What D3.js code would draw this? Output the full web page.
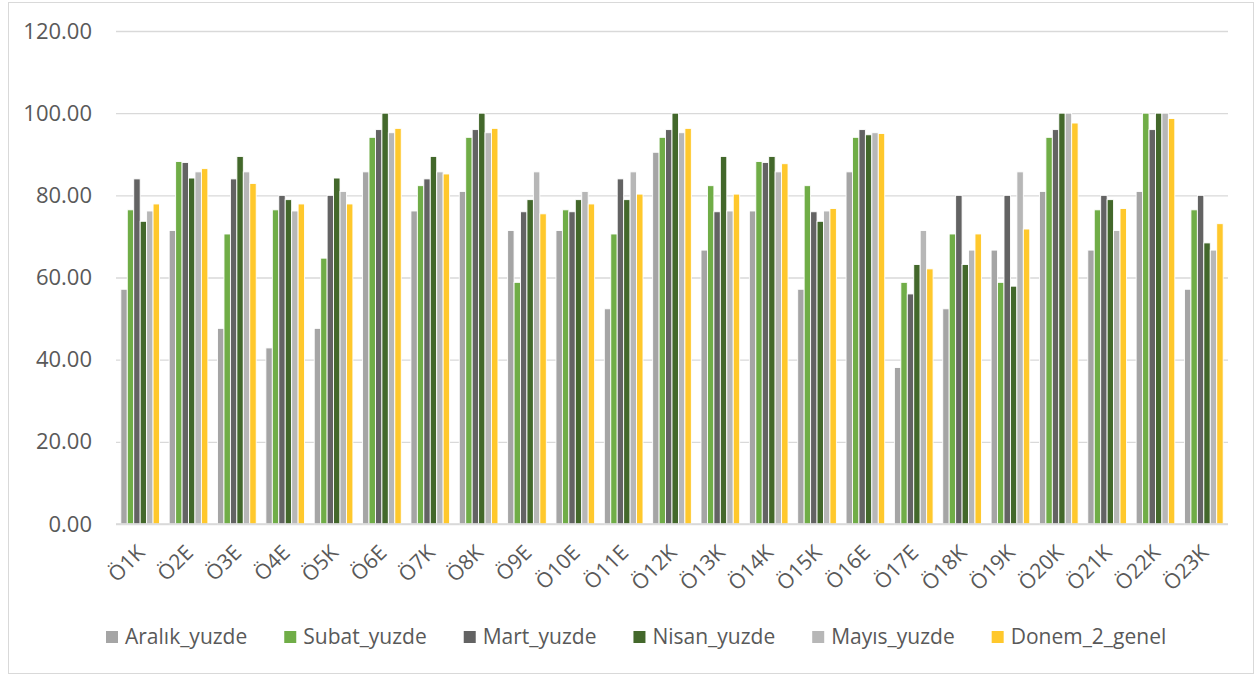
<!DOCTYPE html>
<html>
<head>
<meta charset="utf-8">
<script src="https://cdn.jsdelivr.net/npm/d3@7"></script>
<style>
  body { margin: 0; background: #fff; }
  svg text { font-family: "Open Sans", sans-serif; fill: #595959; }
</style>
</head>
<body>
<div id="chart"></div>
<script>
// categories and series values
const categories = ['Ö1K','Ö2E','Ö3E','Ö4E','Ö5K','Ö6E','Ö7K','Ö8K','Ö9E','Ö10E','Ö11E','Ö12K',
  'Ö13K','Ö14K','Ö15K','Ö16E','Ö17E','Ö18K','Ö19K','Ö20K','Ö21K','Ö22K','Ö23K'];

const aralik = [57.14, 71.43, 47.62, 42.86, 47.62, 85.71, 76.19, 80.95, 71.43, 71.43, 52.38, 90.48,
  66.67, 76.19, 57.14, 85.71, 38.10, 52.38, 66.67, 80.95, 66.67, 80.95, 57.14];
const subat = [76.47, 88.24, 70.59, 76.47, 64.71, 94.12, 82.35, 94.12, 58.82, 76.47, 70.59, 94.12,
  82.35, 88.24, 82.35, 94.12, 58.82, 70.59, 58.82, 94.12, 76.47, 100, 76.47];
const mart = [84, 88, 84, 80, 80, 96, 84, 96, 76, 76, 84, 96,
  76, 88, 76, 96, 56, 80, 80, 96, 80, 96, 80];
const nisan = [73.68, 84.21, 89.47, 78.95, 84.21, 100, 89.47, 100, 78.95, 78.95, 78.95, 100,
  89.47, 89.47, 73.68, 94.74, 63.16, 63.16, 57.89, 100, 78.95, 100, 68.42];
const mayis = [76.19, 85.71, 85.71, 76.19, 80.95, 95.24, 85.71, 95.24, 85.71, 80.95, 85.71, 95.24,
  76.19, 85.71, 76.19, 95.24, 71.43, 66.67, 85.71, 100, 71.43, 100, 66.67];
const donem = [77.9, 86.5, 82.9, 77.9, 77.9, 96.3, 85.2, 96.3, 75.5, 77.9, 80.3, 96.3,
  80.3, 87.7, 76.8, 95.05, 62.1, 70.6, 71.8, 97.6, 76.8, 98.7, 73.1];

const seriesNames = ['Aralık_yuzde', 'Subat_yuzde', 'Mart_yuzde', 'Nisan_yuzde', 'Mayıs_yuzde', 'Donem_2_genel'];
const seriesValues = [aralik, subat, mart, nisan, mayis, donem];
const yTicks = [0, 20, 40, 60, 80, 100, 120];

const colors = ['#a5a5a5', '#70ad47', '#636363', '#43682b', '#b7b7b7', '#ffc82c'];

const width = 1255;
const height = 675;
const plot = { left: 116, right: 1228, top: 31, bottom: 524 };

const svg = d3.select('#chart')
  .append('svg')
  .attr('width', width)
  .attr('height', height);

// outer chart border
svg.append('rect')
  .attr('x', 8.5).attr('y', 2.5)
  .attr('width', 1245).attr('height', 671)
  .attr('fill', 'none')
  .attr('stroke', '#d9d9d9')
  .attr('stroke-width', 1);

const x0 = d3.scaleBand()
  .domain(categories)
  .range([plot.left, plot.right])
  .paddingInner(0.2)
  .paddingOuter(0.1);

const x1 = d3.scaleBand()
  .domain(seriesNames)
  .range([0, x0.bandwidth()]);

const y = d3.scaleLinear()
  .domain([0, 120])
  .range([plot.bottom, plot.top]);

// gridlines + y labels
const yAxis = d3.axisLeft(y)
  .tickValues(yTicks)
  .tickSize(-(plot.right - plot.left))
  .tickPadding(24)
  .tickFormat(d3.format('.2f'));

const gy = svg.append('g')
  .attr('transform', `translate(${plot.left},0)`)
  .call(yAxis);
gy.select('.domain').remove();
gy.selectAll('.tick line').attr('stroke', '#d9d9d9').attr('stroke-width', 1.3);
gy.selectAll('.tick text')
  .attr('font-size', 22)
  .attr('fill', '#595959')
  .style('font-family', '"Open Sans", sans-serif');

// bars
const rows = categories.map((c, i) => ({
  cat: c,
  vals: seriesNames.map((s, j) => ({ key: s, value: seriesValues[j][i], color: colors[j] }))
}));

svg.append('g')
  .selectAll('g')
  .data(rows)
  .join('g')
  .attr('transform', (d) => `translate(${x0(d.cat)},0)`)
  .selectAll('rect')
  .data((d) => d.vals)
  .join('rect')
  .attr('x', (d) => x1(d.key))
  .attr('y', (d) => y(d.value))
  .attr('width', x1.bandwidth())
  .attr('height', (d) => y(0) - y(d.value))
  .attr('fill', (d) => d.color)
  .attr('stroke', '#fff')
  .attr('stroke-width', 0.9);

// baseline on top of bars
svg.append('line')
  .attr('x1', plot.left).attr('x2', plot.right)
  .attr('y1', y(0)).attr('y2', y(0))
  .attr('stroke', '#d9d9d9')
  .attr('stroke-width', 1.3);

// x labels, rotated
svg.append('g')
  .selectAll('text')
  .data(categories)
  .join('text')
  .attr('transform', (d) => `translate(${x0(d) + x0.bandwidth() / 2 + 6},${554}) rotate(-45)`)
  .attr('text-anchor', 'end')
  .attr('font-size', 21)
  .text((d) => d);

// legend, laid out by measured text width
const legend = svg.append('g').attr('transform', 'translate(0,637)');
let lx = 106;
seriesNames.forEach((name, i) => {
  legend.append('rect')
    .attr('x', lx).attr('y', -6)
    .attr('width', 12).attr('height', 12)
    .attr('fill', colors[i]);
  const t = legend.append('text')
    .attr('x', lx + 19)
    .attr('dy', '0.35em')
    .attr('font-size', 21)
    .text(name);
  lx += 19 + t.node().getComputedTextLength() + 37;
});
</script>
</body>
</html>
